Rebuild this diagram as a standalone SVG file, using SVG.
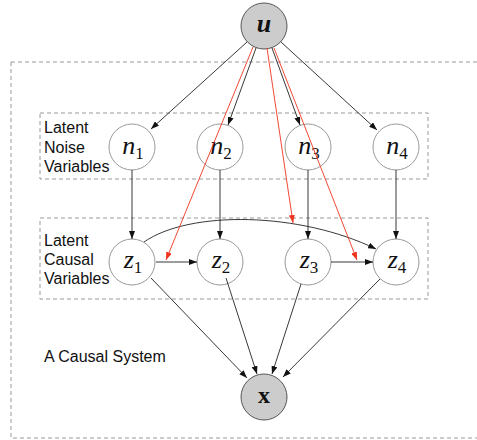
<svg xmlns="http://www.w3.org/2000/svg" width="477" height="440" viewBox="0 0 477 440">
<defs>
<marker id="ab" markerWidth="8" markerHeight="6" refX="8" refY="3" orient="auto" markerUnits="userSpaceOnUse"><path d="M0,0 L8,3 L0,6 z" fill="#111"/></marker>
<marker id="ar" markerWidth="8" markerHeight="6" refX="8" refY="3" orient="auto" markerUnits="userSpaceOnUse"><path d="M0,0 L8,3 L0,6 z" fill="#f0341e"/></marker>
</defs>
<style>
.box{fill:none;stroke:#999;stroke-width:1;stroke-dasharray:4 3}
.node{fill:#fff;stroke:#999;stroke-width:1}
.obs{fill:#cccccc;stroke:#555;stroke-width:1}
.e{fill:none;stroke:#222;stroke-width:0.9;marker-end:url(#ab)}
.r{fill:none;stroke:#f0341e;stroke-width:0.9;marker-end:url(#ar)}
.lbl{font-family:"Liberation Sans",Arial,sans-serif;font-size:16px;fill:#111}
.m{font-family:"Liberation Serif","DejaVu Serif",serif;font-style:italic;font-size:26px;fill:#111;text-anchor:middle}
.sub{font-style:normal;font-size:17px}
.xb{font-family:"Liberation Serif","DejaVu Serif",serif;font-style:normal;font-weight:bold;font-size:24px;fill:#111;text-anchor:middle}
</style>
<rect class="box" x="11" y="62" width="480" height="376"/>
<rect class="box" x="40" y="113" width="388" height="66"/>
<rect class="box" x="40" y="218" width="388" height="81"/>
<text class="lbl" x="44" y="133">Latent</text>
<text class="lbl" x="44" y="153">Noise</text>
<text class="lbl" x="44" y="172">Variables</text>
<text class="lbl" x="44" y="246">Latent</text>
<text class="lbl" x="44" y="265">Causal</text>
<text class="lbl" x="44" y="284">Variables</text>
<text class="lbl" x="44" y="362">A Causal System</text>
<g id="u"><circle class="obs" cx="264" cy="26" r="23"/><text class="m" x="264" y="32" font-weight="bold">u</text></g>
<g id="n1"><circle class="node" cx="132" cy="147" r="23"/><text class="m" x="133" y="154">n<tspan class="sub" dy="5">1</tspan></text></g>
<g id="n2"><circle class="node" cx="220" cy="147" r="23"/><text class="m" x="221" y="154">n<tspan class="sub" dy="5">2</tspan></text></g>
<g id="n3"><circle class="node" cx="308" cy="147" r="23"/><text class="m" x="309" y="154">n<tspan class="sub" dy="5">3</tspan></text></g>
<g id="n4"><circle class="node" cx="396" cy="147" r="23"/><text class="m" x="397" y="154">n<tspan class="sub" dy="5">4</tspan></text></g>
<g id="z1"><circle class="node" cx="132" cy="262" r="23"/><text class="m" x="133" y="268">z<tspan class="sub" dy="5">1</tspan></text></g>
<g id="z2"><circle class="node" cx="220" cy="262" r="23"/><text class="m" x="221" y="268">z<tspan class="sub" dy="5">2</tspan></text></g>
<g id="z3"><circle class="node" cx="308" cy="262" r="23"/><text class="m" x="309" y="268">z<tspan class="sub" dy="5">3</tspan></text></g>
<g id="z4"><circle class="node" cx="396" cy="262" r="23"/><text class="m" x="397" y="268">z<tspan class="sub" dy="5">4</tspan></text></g>
<g id="x"><circle class="obs" cx="264" cy="397" r="23"/><text class="xb" x="264" y="403">x</text></g>
<g id="connectors">
<line class="e" x1="247" y1="42" x2="151" y2="129"/>
<line class="e" x1="256" y1="48" x2="228" y2="125"/>
<line class="e" x1="272" y1="48" x2="300" y2="125"/>
<line class="e" x1="281" y1="42" x2="377" y2="130"/>
<line class="e" x1="132" y1="170" x2="132" y2="239"/>
<line class="e" x1="220" y1="170" x2="220" y2="239"/>
<line class="e" x1="308" y1="170" x2="308" y2="239"/>
<line class="e" x1="396" y1="170" x2="396" y2="239"/>
<line class="e" x1="156" y1="262" x2="197" y2="262"/>
<line class="e" x1="331" y1="262" x2="373" y2="262"/>
<path class="e" d="M144,242 C190,210 300,212 376,249"/>
<line class="e" x1="151" y1="278" x2="247" y2="378"/>
<line class="e" x1="226" y1="278" x2="257" y2="374"/>
<line class="e" x1="301" y1="284" x2="272" y2="374"/>
<line class="e" x1="380" y1="279" x2="283" y2="377"/>
<line class="r" x1="253" y1="47" x2="166" y2="260"/>
<line class="r" x1="267" y1="48" x2="293" y2="223"/>
<line class="r" x1="274" y1="48" x2="357" y2="260"/>
</g>
</svg>
